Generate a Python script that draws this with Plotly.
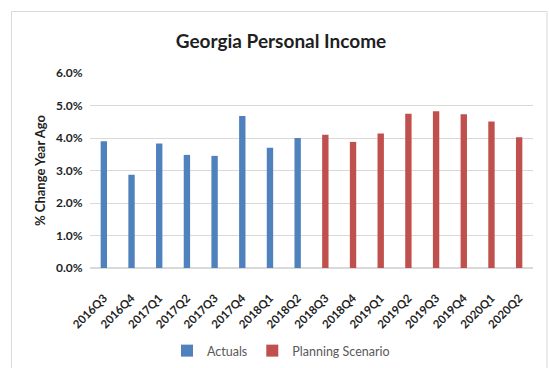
import plotly.graph_objects as go

# Quarterly categories and year-over-year % change in Georgia personal income
quarters = ["2016Q3", "2016Q4", "2017Q1", "2017Q2", "2017Q3", "2017Q4", "2018Q1", "2018Q2",
            "2018Q3", "2018Q4", "2019Q1", "2019Q2", "2019Q3", "2019Q4", "2020Q1", "2020Q2"]
actual_quarters = quarters[:8]
actual_values = [3.90, 2.87, 3.83, 3.48, 3.45, 4.68, 3.70, 4.00]
plan_quarters = quarters[8:]
plan_values = [4.10, 3.88, 4.14, 4.75, 4.82, 4.73, 4.51, 4.02]

W, H = 549, 368
L, R, T, B = 90, 16, 73, 100
pw, ph = W - L - R, H - T - B

FONT = "Lato"
DARK = "#1f1f1f"
GRAY = "#595959"

fig = go.Figure()
fig.add_bar(x=actual_quarters, y=[v / 100 for v in actual_values], name="Actuals",
            marker=dict(color="#4f81bd", line=dict(width=0)), width=0.23)
fig.add_bar(x=plan_quarters, y=[v / 100 for v in plan_values], name="Planning Scenario",
            marker=dict(color="#c0504d", line=dict(width=0)), width=0.23)

# chart-area border (pixel positions converted to paper coordinates)
def px(x):
    return (x - L) / pw

def py(y):
    return 1 - (y - T) / ph

fig.add_shape(type="rect", xref="paper", yref="paper",
              x0=px(11.5), x1=px(547), y0=py(11.5), y1=py(380),
              line=dict(color="#d9d9d9", width=1), layer="below")

fig.update_layout(
    width=W, height=H,
    margin=dict(l=L, r=R, t=T, b=B, autoexpand=False),
    paper_bgcolor="white", plot_bgcolor="white",
    barmode="overlay",
    showlegend=True,
    font=dict(family=FONT, color=DARK),
    title=dict(text="<b>Georgia Personal Income</b>", x=281 / W, xanchor="center",
               y=1 - 41 / H, yanchor="middle",
               font=dict(family=FONT, size=19, color=DARK)),
    legend=dict(orientation="h", xref="container", x=281 / W, xanchor="center",
                yref="container", y=1 - 351 / H, yanchor="middle",
                font=dict(family=FONT, size=12.5, color=GRAY), itemwidth=30,
                traceorder="normal", tracegroupgap=0),
    xaxis=dict(type="category", categoryorder="array", categoryarray=quarters,
               tickangle=-45, tickfont=dict(family=FONT, size=11.5, color=DARK, weight="bold"),
               showgrid=False, showline=False, ticks="outside", ticklen=18,
               tickcolor="rgba(0,0,0,0)", range=[-0.5, 15.5], automargin=False),
    yaxis=dict(range=[0, 0.06], dtick=0.01, tickformat=".1%",
               tickfont=dict(family=FONT, size=12, color=DARK, weight="bold"),
               gridcolor="#d9d9d9", gridwidth=1, zeroline=True, zerolinecolor="#d9d9d9",
               showline=False, ticks="outside", ticklen=4, tickcolor="rgba(0,0,0,0)",
               automargin=False,
               title=dict(text="<b>% Change Year Ago</b>", standoff=7,
                          font=dict(family=FONT, size=13, color=DARK))),
)

fig.write_html("out.html")
